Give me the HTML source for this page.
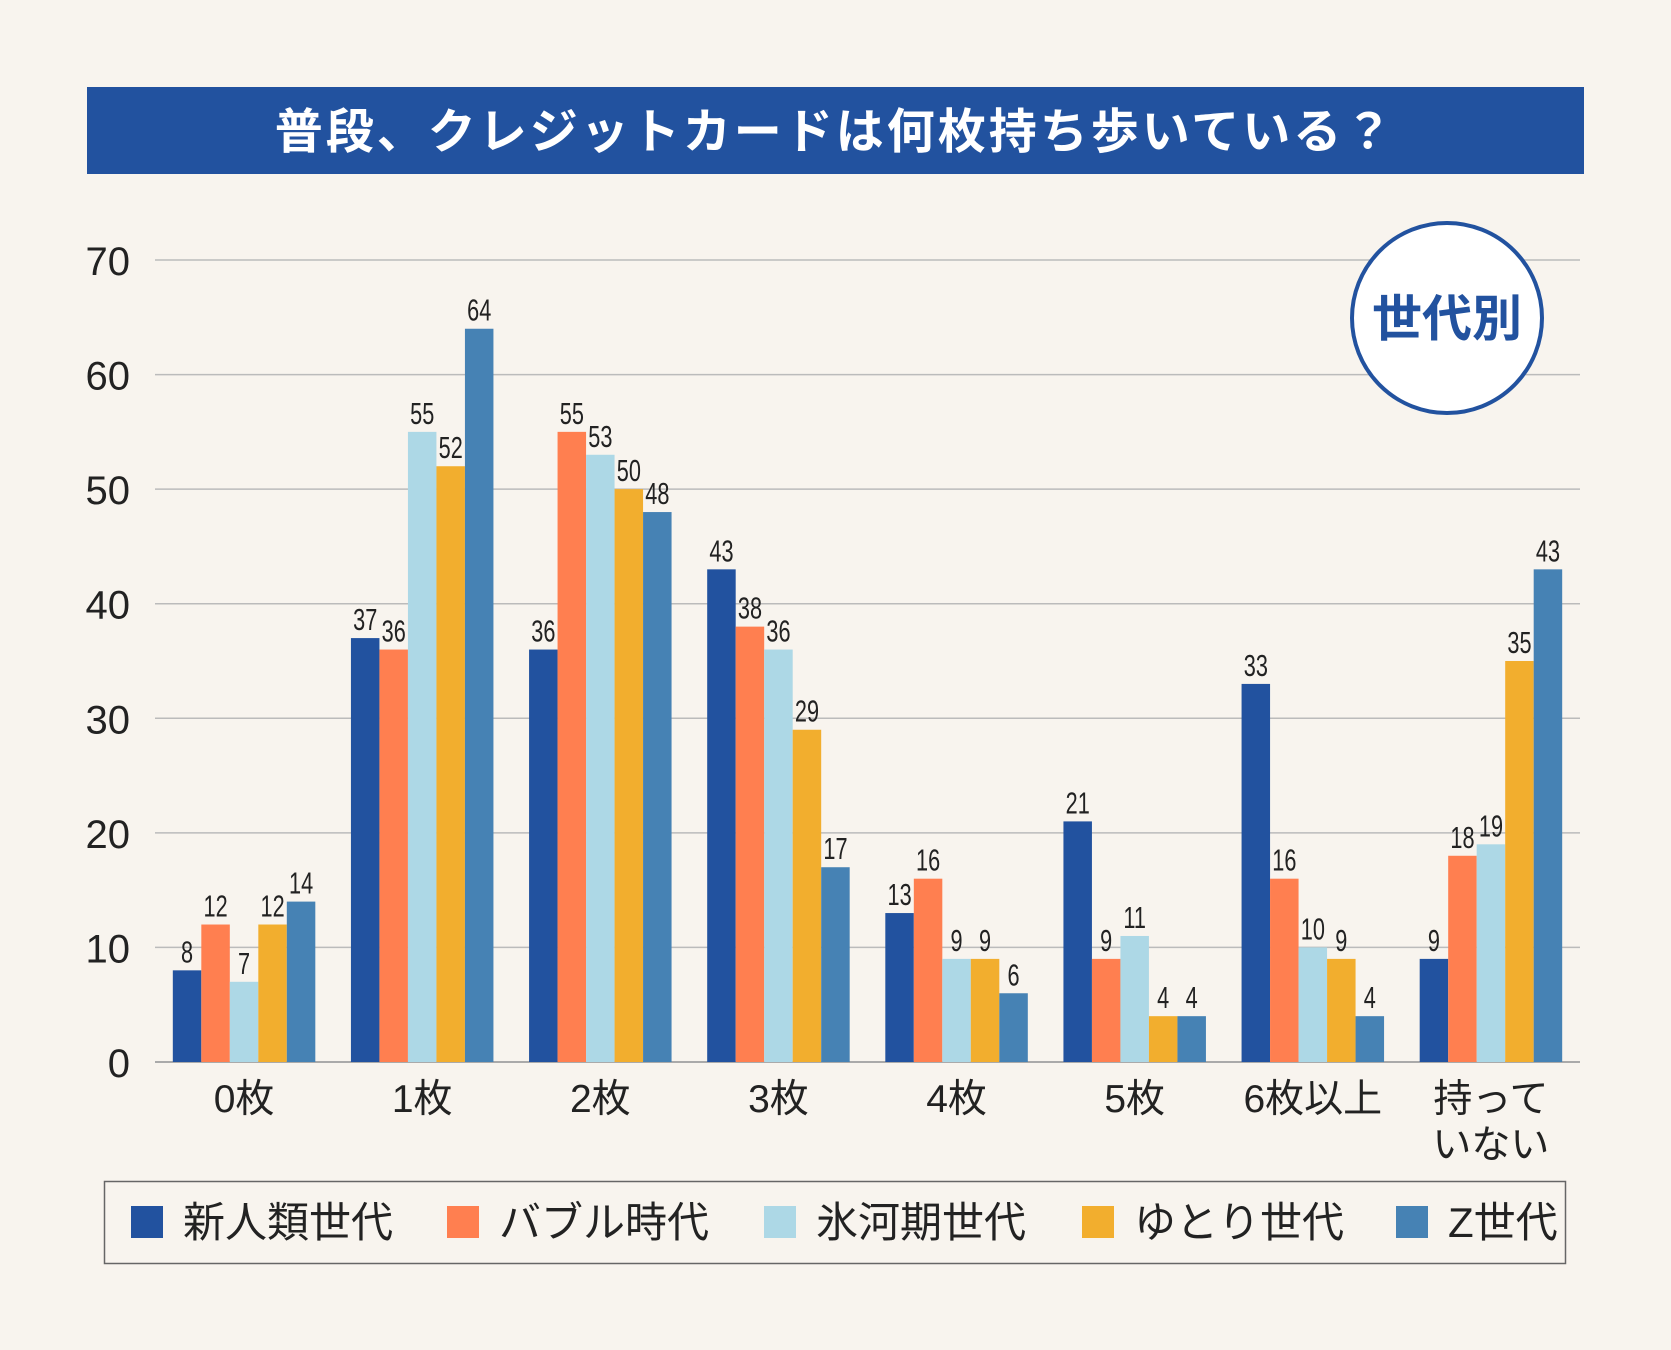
<!DOCTYPE html>
<html><head><meta charset="utf-8">
<style>
html,body{margin:0;padding:0;background:#f8f4ee;}
svg{display:block;font-family:"Liberation Sans","Noto Sans CJK JP",sans-serif;}
</style></head>
<body>
<svg id="chart" width="1671" height="1350" viewBox="0 0 1671 1350">
<rect x="0" y="0" width="1671" height="1350" fill="#f8f4ee"/>
<rect x="87" y="87" width="1497" height="87" fill="#22529f"/>
<text x="835" y="148" text-anchor="middle" font-size="48" font-weight="bold" fill="#fff" letter-spacing="3">普段、クレジットカードは何枚持ち歩いている？</text>
<g id="grid"></g>
<g id="bars"></g>
<g id="cats"></g>
<circle cx="1447" cy="318" r="95" fill="#fff" stroke="#22529f" stroke-width="4"/>
<text x="1447" y="336" text-anchor="middle" font-size="50" font-weight="bold" fill="#22529f">世代別</text>
<rect x="104.5" y="1181.5" width="1461" height="82" fill="none" stroke="#666" stroke-width="1.5"/>
<g id="legend"></g>
</svg>
<script>
const categories = ["0枚","1枚","2枚","3枚","4枚","5枚","6枚以上","持って|いない"];
const seriesNames = ["新人類世代","バブル時代","氷河期世代","ゆとり世代","Z世代"];
const shinjinrui = [8,37,36,43,13,21,33,9];
const bubble = [12,36,55,38,16,9,16,18];
const hyogaki = [7,55,53,36,9,11,10,19];
const yutori = [12,52,50,29,9,4,9,35];
const genZ = [14,64,48,17,6,4,4,43];
const yTicks = [0,10,20,30,40,50,60,70];
const series = [shinjinrui,bubble,hyogaki,yutori,genZ];
const colors = ["#22529f","#ff7f50","#add8e6","#f2ae2e","#4682b4"];

const NS="http://www.w3.org/2000/svg";
const X0=155,X1=1580,Y0=1062,Y70=260;
const y=v=>Y0-(v/70)*(Y0-Y70);
const gw=(X1-X0)/categories.length, bw=28.5;
function mk(tag,attrs,parent){const e=document.createElementNS(NS,tag);for(const k in attrs)e.setAttribute(k,attrs[k]);parent.appendChild(e);return e;}
const grid=document.getElementById('grid');
yTicks.forEach(t=>{
  const l=mk('line',{x1:X0,x2:X1,y1:y(t),y2:y(t),stroke:t===0?'#aaa':'#bbb','stroke-width':t===0?2:1.5},grid);
  
  
  const tx=mk('text',{x:130,y:y(t)+15,'text-anchor':'end','font-size':40,fill:'#222'},grid);
  tx.textContent=t;
  
  
});
const bars=document.getElementById('bars');
categories.forEach((c,i)=>{
  const cx=X0+gw*(i+0.5);
  series.forEach((s,j)=>{
    const x=cx-bw*2.5+bw*j, v=s[i];
    const r=mk('rect',{x:x,y:y(v),width:bw,height:Y0-y(v),fill:colors[j]},bars);
    
    
    const t=mk('text',{x:0,y:0,'text-anchor':'middle','font-size':31,fill:'#222',transform:`translate(${x+bw/2},${y(v)-8}) scale(0.7,1)`},bars);
    t.textContent=v;
    
    
  });
  const parts=c.split('|');
  const cats=document.getElementById('cats');
  parts.forEach((p,k)=>{
    const t=mk('text',{x:cx,y:1112+k*46,'text-anchor':'middle','font-size':39,fill:'#222'},cats);
    t.textContent=p;
    
    
  });
});
const legend=document.getElementById('legend');
const lx=[131,447,764,1082,1396];
seriesNames.forEach((n,j)=>{
  const r=mk('rect',{x:lx[j],y:1206,width:32,height:32,fill:colors[j]},legend);
  
  
  const t=mk('text',{x:lx[j]+52,y:1237,'font-size':42,fill:'#222'},legend);
  t.textContent=n;
  
  
});
</script>
</body></html>
